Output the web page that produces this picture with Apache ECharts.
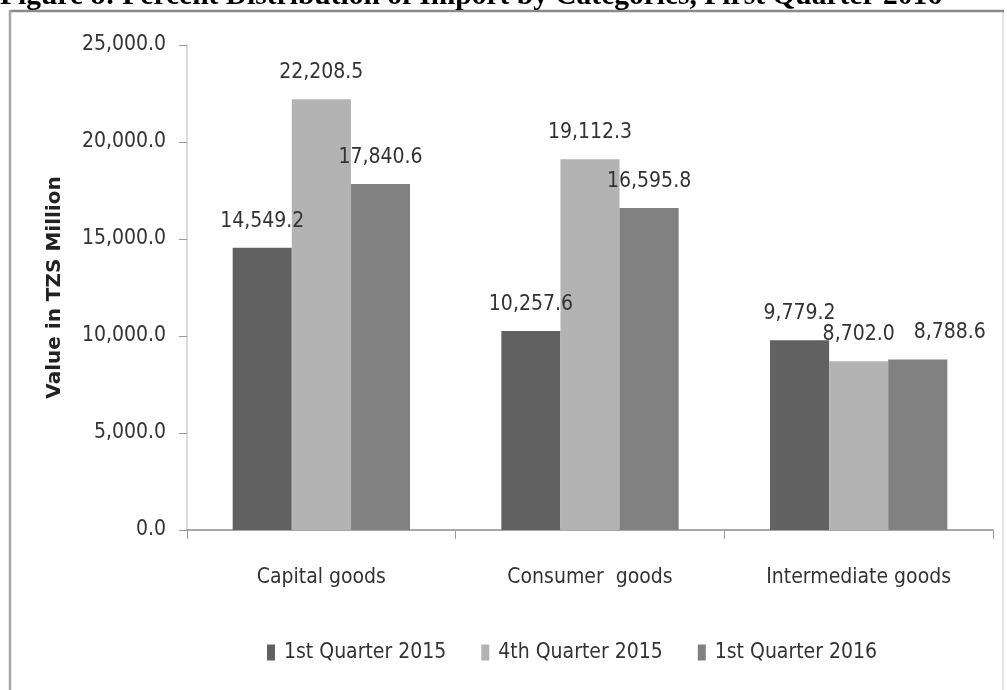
<!DOCTYPE html>
<html>
<head>
<meta charset="utf-8">
<script src="https://cdn.jsdelivr.net/npm/echarts@6/dist/echarts.min.js"></script>
<style>
  html, body { margin: 0; padding: 0; background: #fff; }
  #chart { width: 1007px; height: 690px; }
</style>
</head>
<body>
<div id="chart"></div>
<script>
var categories = ['Capital goods', 'Consumer  goods', 'Intermediate goods']
var seriesNames = ['1st Quarter 2015', '4th Quarter 2015', '1st Quarter 2016']
var q1_2015 = [14549.2, 10257.6, 9779.2]
var q4_2015 = [22208.5, 19112.3, 8702.0]
var q1_2016 = [17840.6, 16595.8, 8788.6]
var yTicks = [0, 5000, 10000, 15000, 20000, 25000]

var barColors = ['#616161', '#b3b3b3', '#818181']
var narrow = "'Liberation Sans Narrow', 'DejaVu Sans Condensed', sans-serif"

function fmt(v) {
  return Number(v).toLocaleString('en-US', { minimumFractionDigits: 1, maximumFractionDigits: 1 })
}

var myChart = echarts.init(document.getElementById('chart'))

// shifts: per category label nudge (excel moved the crowded one sideways)
function makeBar(name, data, color, shifts) {
  return {
    name: name,
    type: 'bar',
    data: data.map(function (v, i) {
      var item = { value: v }
      if (shifts && shifts[i]) item.label = { offset: [shifts[i], 0] }
      return item
    }),
    barGap: '0%',
    barCategoryGap: '34%',
    itemStyle: { color: color },
    label: {
      show: true,
      position: 'top',
      distance: 16,
      color: '#333',
      fontFamily: narrow,
      fontSize: 21,
      formatter: function (p) { return fmt(p.value) }
    }
  }
}

var option = {
  animation: false,
  title: {
    text: 'Figure 8: Percent Distribution of Import by Categories, First Quarter 2016',
    left: 0,
    top: -19,
    padding: 0,
    textStyle: {
      fontFamily: "'Liberation Serif', 'Times New Roman', serif",
      fontWeight: 'bold',
      fontSize: 29.5,
      color: '#000'
    }
  },
  graphic: [
    { type: 'line', shape: { x1: 1003, y1: 11, x2: 1003, y2: 700 }, style: { stroke: '#e4e4e4', lineWidth: 2 } },
    { type: 'line', shape: { x1: 10, y1: 11, x2: 1004, y2: 11 }, style: { stroke: '#8a8a8a', lineWidth: 2.5 } },
    { type: 'line', shape: { x1: 10, y1: 10, x2: 10, y2: 700 }, style: { stroke: '#a6a6a6', lineWidth: 2.5 } }
  ],
  grid: {
    left: 187,
    right: 14,
    top: 45,
    bottom: 690 - 530,
    containLabel: false
  },
  legend: {
    data: seriesNames,
    left: 262,
    top: 637,
    itemWidth: 8,
    itemHeight: 16,
    itemGap: 35,
    icon: 'rect',
    textStyle: {
      fontFamily: narrow,
      fontSize: 21,
      color: '#333',
      padding: [0, 0, 0, 4]
    }
  },
  xAxis: {
    type: 'category',
    data: categories,
    axisLine: { lineStyle: { color: '#8c8c8c', width: 1.5 } },
    axisTick: { show: true, length: 9, alignWithLabel: false, lineStyle: { color: '#9a9a9a' } },
    axisLabel: {
      margin: 37,
      color: '#333',
      fontFamily: narrow,
      fontSize: 21,
      interval: 0
    }
  },
  yAxis: {
    type: 'value',
    min: 0,
    max: 25000,
    interval: 5000,
    name: 'Value in TZS Million',
    nameLocation: 'middle',
    nameGap: 122,
    nameTextStyle: {
      fontFamily: "'DejaVu Sans', Verdana, sans-serif",
      fontWeight: 'bold',
      fontSize: 20,
      color: '#222'
    },
    axisLine: { show: true, lineStyle: { color: '#cfcfcf', width: 1.5 } },
    axisTick: { show: true, length: 8, lineStyle: { color: '#9a9a9a' } },
    splitLine: { show: false },
    axisLabel: {
      margin: 21,
      color: '#333',
      fontFamily: narrow,
      fontSize: 21,
      formatter: function (v) { return fmt(v) }
    }
  },
  series: [
    makeBar(seriesNames[0], q1_2015, barColors[0]),
    makeBar(seriesNames[1], q4_2015, barColors[1]),
    makeBar(seriesNames[2], q1_2016, barColors[2], [0, 0, 32])
  ]
}

myChart.setOption(option)
</script>
</body>
</html>
